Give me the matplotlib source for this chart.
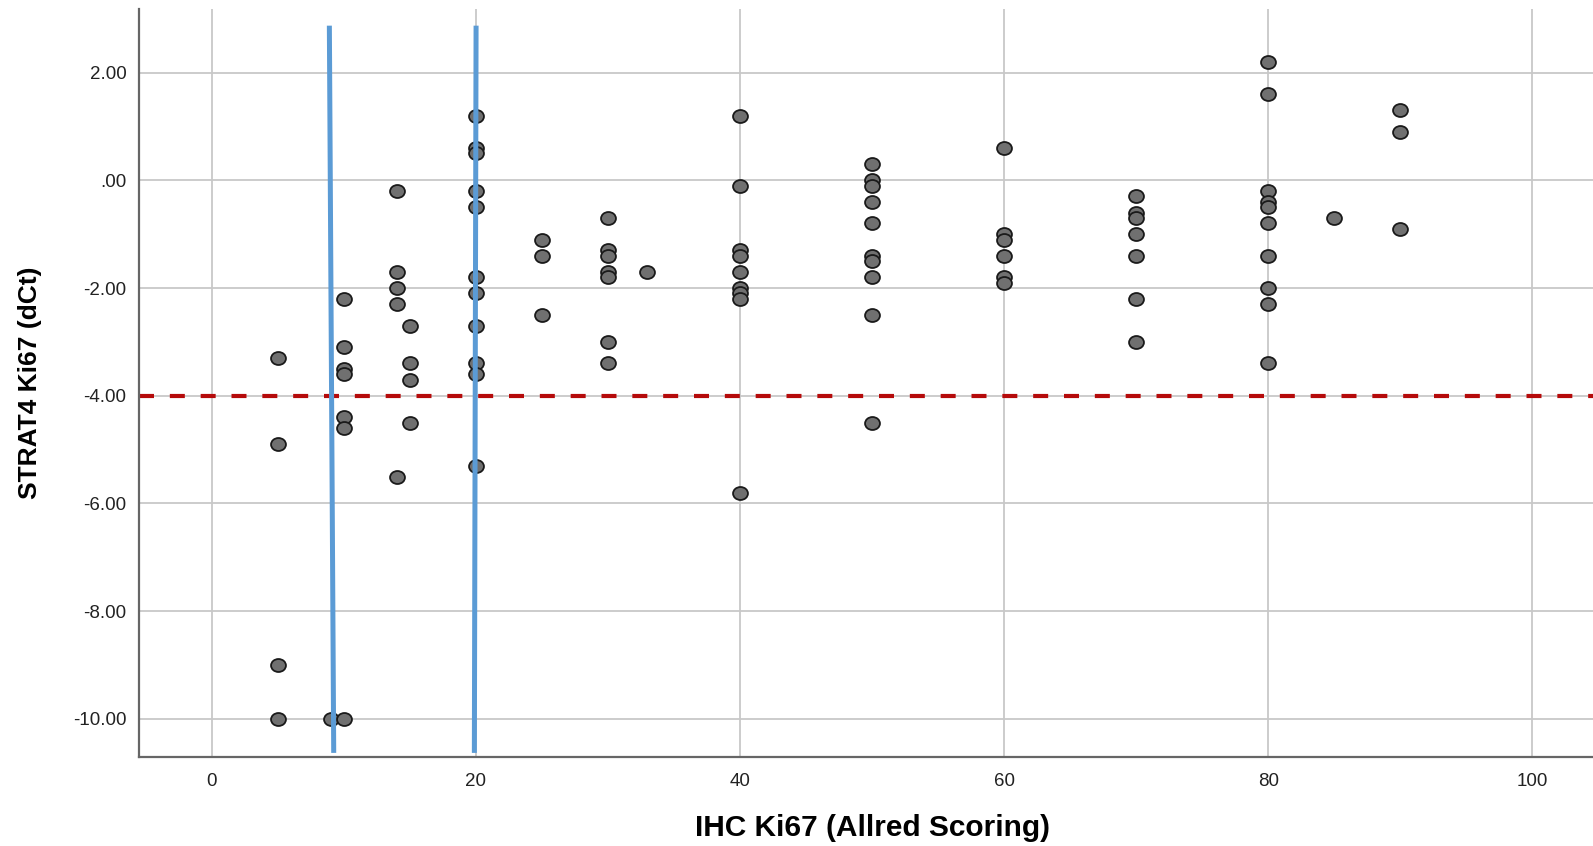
import matplotlib
matplotlib.use("Agg")
import matplotlib.pyplot as plt
from matplotlib.path import Path
from matplotlib.markers import MarkerStyle
from matplotlib.transforms import Affine2D

# IHC Ki67 (Allred) vs STRAT4 Ki67 dCt
ihc = [5, 5, 5, 5,
       9, 10, 10, 10, 10, 10, 10, 10,
       14, 14, 14, 14, 14,
       15, 15, 15, 15,
       20, 20, 20, 20, 20, 20, 20, 20, 20, 20, 20,
       25, 25, 25,
       30, 30, 30, 30, 30, 30, 30,
       33,
       40, 40, 40, 40, 40, 40, 40, 40, 40,
       50, 50, 50, 50, 50, 50, 50, 50, 50, 50,
       60, 60, 60, 60, 60, 60,
       70, 70, 70, 70, 70, 70, 70,
       80, 80, 80, 80, 80, 80, 80, 80, 80, 80,
       85,
       90, 90, 90]
dct = [-3.3, -4.9, -9.0, -10.0,
       -10.0, -2.2, -3.1, -3.5, -3.6, -4.4, -4.6, -10.0,
       -0.2, -1.7, -2.0, -2.3, -5.5,
       -2.7, -3.4, -3.7, -4.5,
       1.2, 0.6, 0.5, -0.2, -0.5, -1.8, -2.1, -2.7, -3.4, -3.6, -5.3,
       -1.1, -1.4, -2.5,
       -0.7, -1.3, -1.4, -1.7, -1.8, -3.0, -3.4,
       -1.7,
       1.2, -0.1, -1.3, -1.4, -1.7, -2.0, -2.1, -2.2, -5.8,
       0.3, 0.0, -0.1, -0.4, -0.8, -1.4, -1.5, -1.8, -2.5, -4.5,
       0.6, -1.0, -1.1, -1.4, -1.8, -1.9,
       -0.3, -0.6, -0.7, -1.0, -1.4, -2.2, -3.0,
       2.2, 1.6, -0.2, -0.4, -0.5, -0.8, -1.4, -2.0, -2.3, -3.4,
       -0.7,
       1.3, 0.9, -0.9]

dct_cutoff = -4.0
# hand-drawn blue cut lines (x_top, x_bottom), (y_top, y_bottom)
cut1_x = [8.91, 9.24]
cut2_x = [20.02, 19.89]
cut_y = [2.87, -10.63]

xticks = [0, 20, 40, 60, 80, 100]
yticks = [2, 0, -2, -4, -6, -8, -10]
ylabels = ["2.00", ".00", "-2.00", "-4.00", "-6.00", "-8.00", "-10.00"]

plt.rcParams['font.family'] = ['Liberation Sans', 'DejaVu Sans']

fig = plt.figure(figsize=(15.93, 8.46), dpi=100)
ax = fig.add_axes([0.0873, 0.1056, 0.9127, 0.8838])
ax.set_xlim(-5.5, 104.6)
ax.set_ylim(-10.70, 3.18)

ax.set_xticks(xticks)
ax.set_yticks(yticks)
ax.set_yticklabels(ylabels)
ax.tick_params(length=0, labelsize=13.5, colors="#222222")
ax.tick_params(axis="y", pad=9)
ax.tick_params(axis="x", pad=12)
ax.grid(True, color="#c8c8c8", lw=1.3, zorder=0)
ax.set_axisbelow(True)
for sp in ["top", "right"]:
    ax.spines[sp].set_visible(False)
for sp in ["left", "bottom"]:
    ax.spines[sp].set_color("#666666")
    ax.spines[sp].set_linewidth(1.6)

ax.axhline(dct_cutoff, color="#b50a0a", lw=3, dashes=(3.6, 3.8), zorder=2)

ell = Path.unit_circle().transformed(Affine2D().scale(1.0, 0.87))
ax.scatter(ihc, dct, marker=MarkerStyle(ell), s=115, facecolor="#707070",
           edgecolor="#1a1a1a", linewidths=1.3, zorder=3)

ax.plot(cut1_x, cut_y, color="#5b9bd5", lw=3.6, solid_capstyle="butt", zorder=4)
ax.plot(cut2_x, cut_y, color="#5b9bd5", lw=3.6, solid_capstyle="butt", zorder=4)

ax.set_xlabel("IHC Ki67 (Allred Scoring)", fontsize=21.5, fontweight="bold")
ax.set_ylabel("STRAT4 Ki67 (dCt)", fontsize=19, fontweight="bold")
ax.xaxis.set_label_coords((872 - 139) / 1454, -(828 - 757) / 748)
ax.yaxis.set_label_coords(-(139 - 30) / 1454, (757 - 383) / 748)
ax.xaxis.label.set_va("center")
ax.yaxis.label.set_va("center")

fig.savefig("out.png", dpi=100)
